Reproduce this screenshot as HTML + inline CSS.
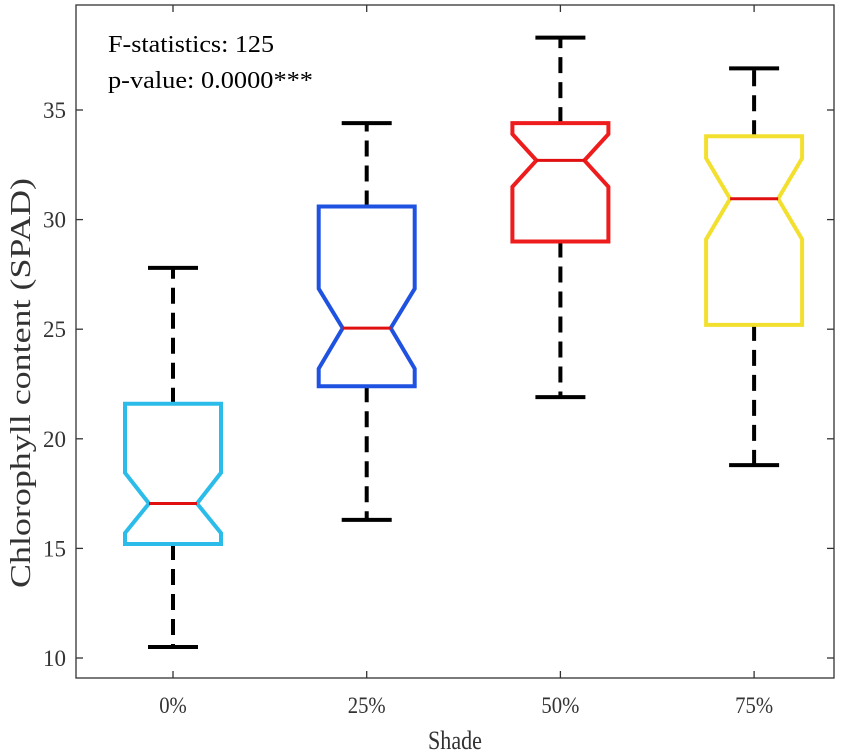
<!DOCTYPE html>
<html><head><meta charset="utf-8"><style>
body{margin:0;background:#fff}
svg{display:block;font-family:"Liberation Serif",serif}
</style></head><body>
<svg id="chart" width="851" height="756">
<rect x="76" y="5" width="758" height="673" fill="none" stroke="#333" stroke-width="1.3"/>
<g id="axes"></g><g id="boxes"></g>
<text x="108" y="52" font-size="24" textLength="166" lengthAdjust="spacingAndGlyphs">F-statistics: 125</text>
<text x="108" y="88" font-size="24" textLength="205" lengthAdjust="spacingAndGlyphs">p-value: 0.0000***</text>
<text x="455" y="749" font-size="26" text-anchor="middle" fill="#333" transform="translate(455,0) scale(0.85,1) translate(-455,0)">Shade</text>
<text transform="translate(30,383) rotate(-90)" font-size="28" text-anchor="middle" fill="#333" textLength="410" lengthAdjust="spacingAndGlyphs">Chlorophyll content (SPAD)</text>
</svg>
<script>
const categories=["0%","25%","50%","75%"];
const whiskerLow=[10.5,16.3,21.9,18.8];
const whiskerHigh=[27.8,34.4,38.3,36.9];
const q1=[15.2,22.4,29.0,25.2];
const q3=[21.6,30.6,34.4,33.8];
const medians=[17.05,25.05,32.7,30.95];
const notchLow=[15.7,23.2,31.5,29.1];
const notchHigh=[18.45,26.85,33.9,32.8];
const yTicks=[10,15,20,25,30,35];
const colors=["#2bbce9","#1f52e0","#ee1c1c","#f3df2e"];
const NS="http://www.w3.org/2000/svg";
const y=v=>658-(v-10)*21.92;
const x=i=>173+i*193.7;
function mk(tag,attrs,parent){const e=document.createElementNS(NS,tag);for(const k in attrs)e.setAttribute(k,attrs[k]);parent.appendChild(e);return e;}
const ax=document.getElementById('axes'),bx=document.getElementById('boxes');
yTicks.forEach(t=>{
  const l=mk('line',{x1:76,x2:83,y1:y(t),y2:y(t),stroke:'#333','stroke-width':1.3},ax);
  
  
  const r=mk('line',{x1:827,x2:834,y1:y(t),y2:y(t),stroke:'#333','stroke-width':1.3},ax);
  
  
  const tx=mk('text',{x:66,y:y(t)+8,'font-size':23,'text-anchor':'end',fill:'#333'},ax);
  tx.textContent=t;
  
  
});
categories.forEach((c,i)=>{
  const X=x(i);
  const t1=mk('line',{x1:X,x2:X,y1:678,y2:671,stroke:'#333','stroke-width':1.3},ax);
  
  
  const t2=mk('line',{x1:X,x2:X,y1:5,y2:12,stroke:'#333','stroke-width':1.3},ax);
  
  
  const tx=mk('text',{x:X,y:713,'font-size':23,'text-anchor':'middle',fill:'#333',transform:`translate(${X},0) scale(0.9,1) translate(${-X},0)`},ax);
  tx.textContent=c;
  
  
  const g=mk('g',{},bx);
  
  
  const ws={stroke:'#000','stroke-width':4,'stroke-dasharray':'16,9'};
  const w1=mk('line',Object.assign({x1:X,x2:X,y1:y(q3[i]),y2:y(whiskerHigh[i])},ws),g);
  
  
  const w2=mk('line',Object.assign({x1:X,x2:X,y1:y(q1[i]),y2:y(whiskerLow[i])},ws),g);
  
  
  [whiskerHigh[i],whiskerLow[i]].forEach(v=>{
    const cp=mk('line',{x1:X-25,x2:X+25,y1:y(v),y2:y(v),stroke:'#000','stroke-width':4},g);
    
    
  });
  const hw=48,nw=24;
  const pts=[[X-hw,y(q3[i])],[X+hw,y(q3[i])],[X+hw,y(notchHigh[i])],[X+nw,y(medians[i])],[X+hw,y(notchLow[i])],[X+hw,y(q1[i])],[X-hw,y(q1[i])],[X-hw,y(notchLow[i])],[X-nw,y(medians[i])],[X-hw,y(notchHigh[i])]];
  const p=mk('polygon',{points:pts.map(a=>a.join(',')).join(' '),fill:'#fff',stroke:colors[i],'stroke-width':4},g);
  
  
  const m=mk('line',{x1:X-nw,x2:X+nw,y1:y(medians[i]),y2:y(medians[i]),stroke:'#e01010','stroke-width':3},g);
  
  
});
</script>
</body></html>
